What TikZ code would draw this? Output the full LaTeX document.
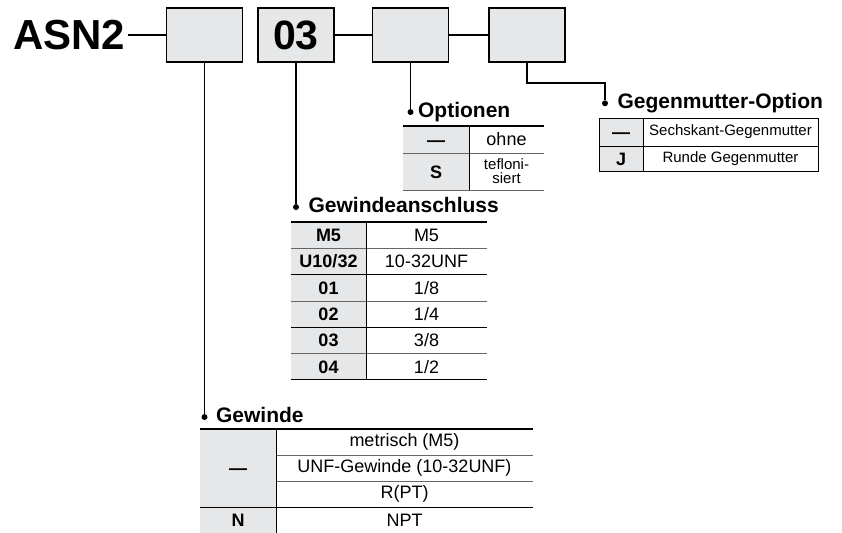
\documentclass[tikz,border=0pt]{standalone}
\usepackage{fontspec}
\setmainfont{Liberation Sans}
\usepackage{tikz}
\usetikzlibrary{positioning}
\definecolor{codegray}{HTML}{E6E7E8}

\begin{document}
\begin{tikzpicture}[x=1pt, y=-1pt, semithick,
                  codebox/.style={draw, line width=1.5pt, fill=codegray,
                  minimum width=76pt, minimum height=54pt, inner sep=0pt,
                  font=\fontsize{41}{41}\selectfont\bfseries},
                  link/.style={line width=1.3pt},
                  dot/.style={circle, fill, inner sep=0pt, minimum size=6pt},
                  heading/.style={font=\fontsize{21}{23}\selectfont\bfseries,
                  inner sep=0pt, text height=15pt, text depth=4pt},
                  key/.style={fill=codegray, inner sep=0pt, outer sep=0pt,
                  text height=13pt, text depth=0pt,
                  font=\fontsize{18}{20}\selectfont\bfseries},
                  val/.style={inner sep=0pt, outer sep=0pt,
                  font=\fontsize{18}{20}\selectfont},
                  small/.style={font=\fontsize{15}{14}\selectfont},
                  toprule/.style={line width=1.8pt},
                  midrule/.style={line width=0.8pt, black!60},
                  rowrule/.style={line width=1pt}]

                  \useasboundingbox (0,0) rectangle (842,532);

                  % Codigo del pedido.
                  \node[font=\fontsize{42}{42}\selectfont\bfseries, anchor=base west,
                  inner sep=2pt] (asn) at (11,50) {ASN2};
                  \node[codebox] (b1) at (204.5,35) {};
                  \node[codebox, right=14pt of b1] (b2) {03};
                  \node[codebox, right=37pt of b2] (b3) {};
                  \node[codebox, right=39pt of b3] (b4) {};
                  \draw[link] (asn.east |- b1) -- (b1.west);
                  \draw[link, line width=1.8pt] (b2.east) -- (b3.west);
                  \draw[link, line width=2.6pt] (b3.east) -- (b4.west);

                  % Puntos y titulos.
                  \node[dot, below=351pt of b1] (gwD) {};
                  \node[dot, below=141pt of b2] (gaD) {};
                  \node[dot, below=46pt of b3] (opD) {};
                  \coordinate (ggBend) at (605,83);
                  \node[dot, below=17pt of ggBend] (ggD) {};
                  \node[heading, right=8pt of gwD] (gwT) {Gewinde};
                  \node[heading, right=9pt of gaD] (gaT) {Gewindeanschluss};
                  \node[heading, right=4pt of opD] (opT) {Optionen};
                  \node[heading, right=9pt of ggD] (ggT) {Gegenmutter-Option};

                  % Dibujamos las lineas.
                  \draw[link] (b1.south) edge (gwD)
                  (b2.south) edge (gaD)
                  (b3.south) edge (opD);
                  \draw[link] (b4.south) |- (ggBend) -- (ggD);

                  % Tabla: Optionen.
                  \node[key, minimum width=66pt, minimum height=27pt,
                  anchor=north west] (op1k) at (403,126) {—};
                  \node[val, minimum width=75pt, minimum height=27pt,
                  right=0pt of op1k] (op1v) {ohne};
                  \node[key, minimum width=66pt, minimum height=37pt,
                  below=0pt of op1k] (op2k) {S};
                  \node[val, small, minimum width=75pt, minimum height=37pt,
                  align=center, right=0pt of op2k] (op2v) {tefloni-\\siert};
                  \draw[toprule] (op1k.north west) -- (op1v.north east);
                  \draw[midrule] (op1k.south west) -- (op1v.south east);
                  \draw[midrule] (op2k.south west) -- (op2v.south east);
                  \draw[rowrule] (op1k.north east) -- (op2k.south east);

                  % Tabla: Gegenmutter-Option.
                  \node[key, minimum width=44pt, minimum height=28pt,
                  anchor=north west] (gg1k) at (599,118) {—};
                  \node[val, small, minimum width=175pt, minimum height=28pt,
                  right=0pt of gg1k] (gg1v) {Sechskant-Gegenmutter};
                  \node[key, minimum width=44pt, minimum height=25pt,
                  below=0pt of gg1k] (gg2k) {J};
                  \node[val, small, minimum width=175pt, minimum height=25pt,
                  right=0pt of gg2k] (gg2v) {Runde Gegenmutter};
                  \draw[rowrule] (gg1k.north west) rectangle (gg2v.south east);
                  \draw[rowrule] (gg1k.south west) -- (gg1v.south east);
                  \draw[rowrule] (gg1k.north east) -- (gg2k.south east);

                  % Tabla: Gewindeanschluss.
                  \node[key, minimum width=75pt, minimum height=26.3pt,
                  anchor=north west] (ga1k) at (291,222) {M5};
                  \node[val, minimum width=121pt, minimum height=26.3pt,
                  right=0pt of ga1k] (ga1v) {M5};
                  \node[key, minimum width=75pt, minimum height=26.3pt,
                  below=0pt of ga1k] (ga2k) {U10/32};
                  \node[val, minimum width=121pt, minimum height=26.3pt,
                  right=0pt of ga2k] (ga2v) {10-32UNF};
                  \node[key, minimum width=75pt, minimum height=26.3pt,
                  below=0pt of ga2k] (ga3k) {01};
                  \node[val, minimum width=121pt, minimum height=26.3pt,
                  right=0pt of ga3k] (ga3v) {1/8};
                  \node[key, minimum width=75pt, minimum height=26.3pt,
                  below=0pt of ga3k] (ga4k) {02};
                  \node[val, minimum width=121pt, minimum height=26.3pt,
                  right=0pt of ga4k] (ga4v) {1/4};
                  \node[key, minimum width=75pt, minimum height=26.3pt,
                  below=0pt of ga4k] (ga5k) {03};
                  \node[val, minimum width=121pt, minimum height=26.3pt,
                  right=0pt of ga5k] (ga5v) {3/8};
                  \node[key, minimum width=75pt, minimum height=26.3pt,
                  below=0pt of ga5k] (ga6k) {04};
                  \node[val, minimum width=121pt, minimum height=26.3pt,
                  right=0pt of ga6k] (ga6v) {1/2};
                  \draw[toprule] (ga1k.north west) -- (ga1v.north east);
                  \draw[midrule] (ga1k.south west) -- (ga1v.south east);
                  \draw[rowrule] (ga2k.south west) -- (ga2v.south east);
                  \draw[midrule] (ga3k.south west) -- (ga3v.south east);
                  \draw[rowrule] (ga4k.south west) -- (ga4v.south east);
                  \draw[midrule] (ga5k.south west) -- (ga5v.south east);
                  \draw[rowrule] (ga6k.south west) -- (ga6v.south east);
                  \draw[rowrule] (ga1k.north east) -- (ga6k.south east);

                  % Tabla: Gewinde.
                  \node[key, minimum width=76pt, minimum height=78pt,
                  anchor=north west] (gw1k) at (200,429) {—};
                  \node[val, minimum width=257pt, minimum height=26pt,
                  anchor=north west] (gw1v) at (gw1k.north east) {metrisch (M5)};
                  \node[val, minimum width=257pt, minimum height=26pt,
                  below=0pt of gw1v] (gw2v) {UNF-Gewinde (10-32UNF)};
                  \node[val, minimum width=257pt, minimum height=26pt,
                  below=0pt of gw2v] (gw3v) {R(PT)};
                  \node[key, minimum width=76pt, minimum height=26pt,
                  below=0pt of gw1k] (gw4k) {N};
                  \node[val, minimum width=257pt, minimum height=26pt,
                  right=0pt of gw4k] (gw4v) {NPT};
                  \draw[toprule] (gw1k.north west) -- (gw1v.north east);
                  \draw[midrule] (gw1v.south west) -- (gw1v.south east);
                  \draw[midrule] (gw2v.south west) -- (gw2v.south east);
                  \draw[rowrule] (gw1k.south west) -- (gw3v.south east);
                  \draw[rowrule] (gw1k.north east) -- (gw4k.south east);

                \end{tikzpicture}
\end{document}
